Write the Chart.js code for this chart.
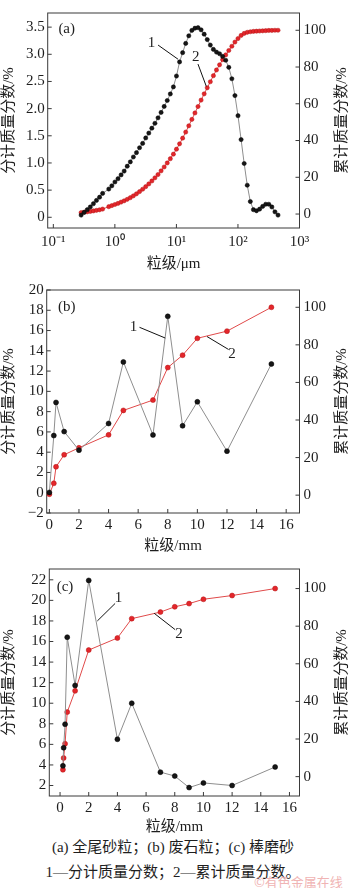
<!DOCTYPE html>
<html>
<head>
<meta charset="utf-8">
<script src="https://cdn.jsdelivr.net/npm/chart.js@4.4.0/dist/chart.umd.min.js"></script>
<style>
  html, body { margin: 0; padding: 0; background: #fff; }
  #page { position: relative; width: 350px; height: 888px; overflow: hidden; background: #fff; }
  canvas { position: absolute; left: 0; }
  .cap { position: absolute; left: 0; width: 346px; text-align: center; white-space: nowrap;
         font: 15px/20px "Liberation Serif", "Noto Sans CJK SC", serif; color: #1e1e1e; }
  #wm { position: absolute; left: 254px; top: 874px; font: 13px/16px "Noto Sans CJK SC", sans-serif; color: #f0b4b4; }
</style>
</head>
<body>
<div id="page">
  <canvas id="chartA" width="350" height="273" style="top:0px"></canvas>
  <canvas id="chartB" width="350" height="278" style="top:277px"></canvas>
  <canvas id="chartC" width="350" height="280" style="top:556px"></canvas>
  <div class="cap" style="top:837px">(a) 全尾砂粒；(b) 废石粒；(c) 棒磨砂</div>
  <div class="cap" style="top:862px">1—分计质量分数；2—累计质量分数。</div>
  <div id="wm">©有色金属在线</div>
</div>
<script>
// (a) full tailings, laser sizing classes (um)
const sizeA = [
    0.283, 0.317, 0.356, 0.399, 0.448, 0.502, 0.564, 0.632,
    0.796, 0.893, 1.002, 1.125, 1.262, 1.416, 1.589, 1.783,
    2.000, 2.244, 2.518, 2.825, 3.170, 3.557, 3.991, 4.477,
    5.024, 5.637, 6.325, 7.096, 7.962, 8.934, 10.02, 11.25,
    12.62, 14.16, 15.89, 17.83, 20.00, 22.44, 25.18, 28.25,
    31.70, 35.57, 39.91, 44.77, 50.24, 56.37, 63.25, 70.96,
    79.62, 89.34, 100.2, 112.5, 126.2, 141.6, 158.9, 178.3,
    200.0, 224.4, 251.8, 282.5, 317.0, 355.7, 399.1, 447.7
];
const fracA = [
    0.04, 0.09, 0.14, 0.19, 0.25, 0.31, 0.37, 0.44,
    0.52, 0.58, 0.65, 0.71, 0.78, 0.85, 0.94, 1.02,
    1.11, 1.19, 1.28, 1.36, 1.46, 1.55, 1.64, 1.73,
    1.83, 1.93, 2.04, 2.15, 2.27, 2.40, 2.60, 2.86,
    3.03, 3.20, 3.34, 3.44, 3.48, 3.49, 3.45, 3.37,
    3.27, 3.17, 3.09, 3.04, 3.01, 2.96, 2.89, 2.76,
    2.55, 2.24, 1.87, 1.43, 0.99, 0.59, 0.29, 0.14,
    0.12, 0.15, 0.20, 0.24, 0.24, 0.19, 0.10, 0.04
];
const cumA = [
    0.8, 1.0, 1.2, 1.4, 1.7, 2.0, 2.3, 2.7,
    4.0, 4.6, 5.2, 5.8, 6.5, 7.2, 8.0, 8.9,
    9.9, 11.0, 12.2, 13.5, 14.9, 16.4, 18.0, 19.7,
    21.5, 23.5, 25.6, 27.8, 30.1, 32.6, 35.3, 38.2,
    41.3, 44.6, 48.0, 51.5, 55.0, 58.5, 62.0, 65.4,
    68.7, 72.0, 75.3, 78.4, 81.2, 84.0, 86.6, 89.0,
    91.3, 93.6, 95.5, 97.2, 98.3, 98.9, 99.2, 99.4,
    99.5, 99.6, 99.7, 99.8, 99.9, 99.9, 100, 100
];

// (b) waste rock (mm)
const sizeB = [0, 0.3, 0.45, 1, 2, 4, 5, 7, 8, 9, 10, 12, 15];
const fracB = [0.03, 5.64, 8.91, 6.03, 4.2, 6.83, 12.9, 5.7, 17.4, 6.6, 8.97, 4.1, 12.7];
const cumB = [0.5, 6.3, 15.1, 21.5, 25.2, 32.1, 45.1, 50.6, 67.9, 74.5, 83.5, 87.3, 100];

// (c) rod-milled sand (mm)
const sizeC = [0.2, 0.25, 0.35, 0.5, 1.05, 2, 4, 5, 7, 8, 9, 10, 12, 15];
const fracC = [3.91, 5.67, 7.96, 16.42, 11.73, 21.94, 6.5, 10.0, 3.3, 2.92, 1.8, 2.25, 2.0, 3.8];
const cumC = [3.66, 9.9, 17.5, 34.3, 45.6, 67.3, 73.7, 84.0, 87.5, 90.3, 92.0, 94.3, 96.3, 100];

// tick values
const ticksAx = [0.1, 1, 10, 100, 1000];
const tickLabelsAx = ['10⁻¹', '10⁰', '10¹', '10²', '10³'];
const ticksAy = [0, 0.5, 1, 1.5, 2, 2.5, 3, 3.5];
const ticksMm = [0, 2, 4, 6, 8, 10, 12, 14, 16];
const ticksBy = [-2, 0, 2, 4, 6, 8, 10, 12, 14, 16, 18, 20];
const ticksCy = [2, 4, 6, 8, 10, 12, 14, 16, 18, 20, 22];
const ticksPct = [0, 20, 40, 60, 80, 100];

const colors = {
    black: '#161616',
    gray: '#8e8e8e',
    red: '#e3262b',
    redLine: '#e04a4a',
    frame: '#3a3a3a',
    text: '#1e1e1e'
};
const serif = '"Liberation Serif", "Noto Sans CJK SC", serif';

function pts(xs, ys) {
    return xs.map((x, i) => ({ x: x, y: ys[i] }));
}
function fixTicks(values) {
    return function (scale) { scale.ticks = values.map(v => ({ value: v })); };
}
function fixSize(prop, size) {
    return function (scale) { scale[prop] = size; };
}

// box frame, inward tick marks, right title, curve labels 1/2 and panel tag
const framePlugin = {
    id: 'frame',
    beforeDatasetsDraw(chart) {
        const { ctx, chartArea: a } = chart;
        ctx.save();
        ctx.strokeStyle = colors.frame;
        ctx.lineWidth = 1;
        ctx.strokeRect(a.left, a.top, a.right - a.left, a.bottom - a.top);
        const tl = 4;
        ['x', 'y', 'y1'].forEach(id => {
            const s = chart.scales[id];
            s.ticks.forEach(t => {
                const p = s.getPixelForValue(t.value);
                ctx.beginPath();
                if (id === 'x') { ctx.moveTo(p, a.bottom); ctx.lineTo(p, a.bottom - tl); }
                else if (id === 'y') { ctx.moveTo(a.left, p); ctx.lineTo(a.left + tl, p); }
                else { ctx.moveTo(a.right, p); ctx.lineTo(a.right - tl, p); }
                ctx.stroke();
            });
        });
        ctx.restore();
    },
    afterDraw(chart, args, opts) {
        const { ctx, chartArea: a, scales } = chart;
        const px = v => scales.x.getPixelForValue(v[0]);
        const py = v => scales.y.getPixelForValue(v[1]);
        ctx.save();
        ctx.fillStyle = colors.text;
        ctx.strokeStyle = '#111';
        ctx.lineWidth = 1;
        ctx.font = '15px ' + serif;
        ctx.textAlign = 'center';
        ctx.textBaseline = 'middle';
        ctx.fillText(opts.tag, a.left + opts.tagPos[0], a.top + opts.tagPos[1]);
        opts.marks.forEach(m => {
            ctx.fillText(m.text, px(m.at), py(m.at));
            ctx.beginPath();
            ctx.moveTo(px(m.from), py(m.from));
            ctx.lineTo(px(m.to), py(m.to));
            ctx.stroke();
        });
        // right axis title reads bottom-to-top like the left one
        ctx.translate(chart.width - 8, (a.top + a.bottom) / 2);
        ctx.rotate(-Math.PI / 2);
        ctx.fillText('累计质量分数/%', 0, 0);
        ctx.restore();
    }
};

function axisTicks(extra) {
    return Object.assign({
        font: { family: serif, size: 15 },
        color: colors.text,
        autoSkip: false,
        maxRotation: 0
    }, extra);
}
function axisTitle(text, pad) {
    return { display: true, text: text, font: { family: serif, size: 15 }, color: colors.text, padding: pad };
}

function makeChart(id, p) {
    const ctx = document.getElementById(id);
    return new Chart(ctx, {
        type: 'scatter',
        data: {
            datasets: [{
                data: pts(p.xs, p.frac),
                yAxisID: 'y',
                showLine: true,
                borderColor: colors.gray,
                borderWidth: 1,
                pointRadius: p.r,
                pointBackgroundColor: colors.black,
                pointBorderColor: '#000',
                pointBorderWidth: 0.5
            }, {
                data: pts(p.xs, p.cum),
                yAxisID: 'y1',
                showLine: true,
                borderColor: colors.redLine,
                borderWidth: 1,
                pointRadius: p.r,
                pointBackgroundColor: colors.red,
                pointBorderColor: '#b41414',
                pointBorderWidth: 0.5
            }]
        },
        options: {
            responsive: false,
            animation: false,
            devicePixelRatio: 1,
            events: [],
            layout: { autoPadding: false, padding: { top: p.top, left: 0, right: 0, bottom: 0 } },
            plugins: {
                legend: { display: false },
                tooltip: { enabled: false },
                frame: p.frame
            },
            scales: {
                x: {
                    type: p.xType,
                    position: 'bottom',
                    min: p.xMin, max: p.xMax,
                    afterBuildTicks: fixTicks(p.xTicks),
                    afterFit: fixSize('height', p.xH),
                    grid: { display: false, drawTicks: false },
                    border: { display: false },
                    ticks: axisTicks({ padding: p.xPad, callback: p.xLabel }),
                    title: axisTitle(p.xTitle, 0)
                },
                y: {
                    position: 'left',
                    min: p.yMin, max: p.yMax,
                    afterBuildTicks: fixTicks(p.yTicks),
                    afterFit: fixSize('width', p.leftW),
                    grid: { display: false, drawTicks: false },
                    border: { display: false },
                    ticks: axisTicks({ padding: 3, callback: p.yLabel }),
                    title: axisTitle('分计质量分数/%', 0)
                },
                y1: {
                    position: 'right',
                    min: p.y1Min, max: p.y1Max,
                    afterBuildTicks: fixTicks(ticksPct),
                    afterFit: fixSize('width', 50.5),
                    grid: { display: false, drawTicks: false },
                    border: { display: false },
                    ticks: axisTicks({ padding: 4, callback: v => String(v) }),
                    title: { display: false }
                }
            }
        },
        plugins: [framePlugin]
    });
}

document.addEventListener('DOMContentLoaded', function () {

    // (a) 全尾砂
    makeChart('chartA', {
        xs: sizeA, frac: fracA, cum: cumA, r: 2.1,
        top: 1, leftW: 47.7, xH: 45, xPad: 5,
        xType: 'logarithmic', xMin: 0.081, xMax: 1000, xTicks: ticksAx,
        xLabel: (v, i) => tickLabelsAx[i],
        xTitle: '粒级/μm',
        yMin: -0.197, yMax: 3.76, yTicks: ticksAy,
        yLabel: v => (v === 0 ? '0' : v.toFixed(1)),
        y1Min: -7.6, y1Max: 109.4,
        frame: {
            tag: '(a)', tagPos: [19, 15.7],
            marks: [
                { text: '1', at: [3.94, 3.2], from: [5.03, 3.17], to: [10.6, 2.91] },
                { text: '2', at: [20.6, 2.94], from: [22.4, 2.82], to: [30.6, 2.41] }
            ]
        }
    });

    // (b) 废石
    makeChart('chartB', {
        xs: sizeB, frac: fracB, cum: cumB, r: 2.5,
        top: 8, leftW: 46.7, xH: 42, xPad: 3,
        xType: 'linear', xMin: -0.18, xMax: 16.9, xTicks: ticksMm,
        xLabel: v => String(v),
        xTitle: '粒级/mm',
        yMin: -2, yMax: 20, yTicks: ticksBy,
        yLabel: v => (v < 0 ? '−' + (-v) : String(v)),
        y1Min: -9.5, y1Max: 109.2,
        frame: {
            tag: '(b)', tagPos: [20, 16.7],
            marks: [
                { text: '1', at: [5.68, 16.32], from: [6.09, 16.32], to: [7.83, 15.26] },
                { text: '2', at: [12.34, 13.65], from: [12.11, 14.13], to: [10.65, 15.41] }
            ]
        }
    });

    // (c) 棒磨砂
    makeChart('chartC', {
        xs: sizeC, frac: fracC, cum: cumC, r: 2.5,
        top: 9, leftW: 49.3, xH: 40, xPad: 3,
        xType: 'linear', xMin: -0.75, xMax: 16.7, xTicks: ticksMm,
        xLabel: v => String(v),
        xTitle: '粒级/mm',
        yMin: 0.98, yMax: 23.05, yTicks: ticksCy,
        yLabel: v => String(v),
        y1Min: -10.3, y1Max: 110.4,
        frame: {
            tag: '(c)', tagPos: [15.7, 18.3],
            marks: [
                { text: '1', at: [4.07, 20.18], from: [3.84, 19.7], to: [2.6, 18.0] },
                { text: '2', at: [8.3, 16.77], from: [8.03, 17.15], to: [6.56, 18.75] }
            ]
        }
    });

});
</script>
</body>
</html>
